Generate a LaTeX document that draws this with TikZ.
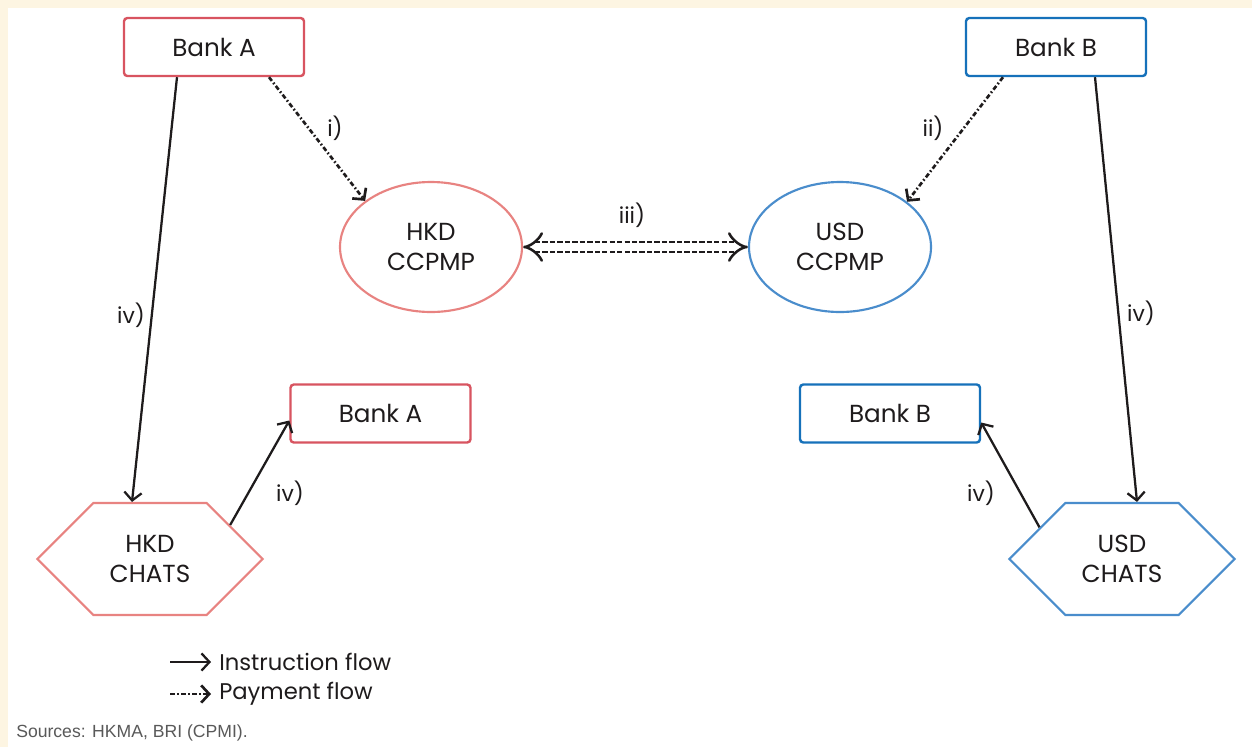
\documentclass[tikz,border=0pt]{standalone}
\usepackage{fontspec}
\setmainfont{Poppins}
\newfontfamily\sourcesfont{Liberation Sans}
\usetikzlibrary{shapes.geometric,shapes.symbols,arrows.meta,calc}

\definecolor{redbox}{RGB}{216,84,96}
\definecolor{redsoft}{RGB}{232,131,129}
\definecolor{bluebox}{RGB}{22,113,186}
\definecolor{bluesoft}{RGB}{74,141,204}
\definecolor{cream}{RGB}{253,245,226}
\definecolor{ink}{RGB}{30,27,28}

\begin{document}
\begin{tikzpicture}[x=0.75pt,y=0.75pt,yscale=-1,xscale=1,
  every node/.style={text=ink, font=\fontsize{16.5}{20}\selectfont},
  bankbox/.style={draw, line width=1.8pt, rounded corners=2.5pt, minimum width=135pt, minimum height=43.5pt, inner sep=0pt, font=\fontsize{18.5}{22}\selectfont},
  ccpmp/.style={draw, ellipse, line width=1.6pt, minimum width=136.5pt, minimum height=97.5pt, inner sep=0pt, align=center, font=\fontsize{18.5}{22.5}\selectfont},
  chats/.style={draw, signal, signal to=east and west, signal pointer angle=90, line width=1.6pt, minimum width=169pt, minimum height=84pt, inner sep=0pt, align=center, font=\fontsize{18.5}{22.5}\selectfont},
  instr/.style={draw=ink, line width=1.7pt, -{Straight Barb[length=6pt,width=13pt]}},
  paym/.style={instr, line width=2pt, dash pattern=on 3.5pt off 1.8pt on 1.2pt off 1.8pt},
  swap/.style={draw=ink, line width=1.9pt, double distance=5.8pt, dash pattern=on 4pt off 1.6pt, {Implies}-{Implies}},
]
\useasboundingbox (0,0) rectangle (1252,747);
\fill[cream] (0,0) rectangle (1252,747);
\fill[white] (8,8) rectangle (1252,747);

% banks and systems
\node[bankbox, draw=redbox] (bankA) at (214,47) {Bank A};
\node[bankbox, draw=bluebox] (bankB) at (1056,47) {Bank B};
\node[ccpmp, draw=redsoft] (hkdccpmp) at (431,247) {HKD\\CCPMP};
\node[ccpmp, draw=bluesoft] (usdccpmp) at (840,247) {USD\\CCPMP};
\node[bankbox, draw=redbox] (bankAlow) at (380.5,413.5) {Bank A};
\node[bankbox, draw=bluebox] (bankBlow) at (890,413.5) {Bank B};
\node[chats, draw=redsoft] (hkdchats) at (150,559) {HKD\\CHATS};
\node[chats, draw=bluesoft] (usdchats) at (1122,559) {USD\\CHATS};

% flows
\draw[instr] ($(bankA.south)+(-37,0)$) -- ($(hkdchats.north)+(-18,0)$);
\draw[paym] ($(bankA.south)+(55,0)$) -- (hkdccpmp.145);
\draw[paym] ($(bankB.south)+(-53,0)$) -- (usdccpmp.34);
\draw[swap] (hkdccpmp.east) -- (usdccpmp.west);
\draw[instr] (hkdchats.23) -- ($(bankAlow.west)+(0,7)$);
\draw[instr] (usdchats.159) -- ($(bankBlow.east)+(0,9)$);
\draw[instr] ($(bankB.south)+(39,0)$) -- ($(usdchats.north)+(15,0)$);

% step labels
\node (lbli) at (335,128) {i)};
\node (lblii) at (933,128) {ii)};
\node (lbliii) at (632,215) {iii)};
\node (lblivA) at (131,315) {iv)};
\node (lblivB) at (290,493) {iv)};
\node (lblivC) at (981,493) {iv)};
\node (lblivD) at (1141,313) {iv)};

% legend
\node[anchor=west, inner sep=0pt, font=\fontsize{17}{20}\selectfont] (instrtext) at (219,662) {Instruction flow};
\node[anchor=west, inner sep=0pt, font=\fontsize{17}{20}\selectfont] (paymtext) at (219,694) {Payment flow};
\coordinate (instrtail) at (170,662);
\coordinate (paymtail) at (170,694);
\draw[instr] (instrtail) -- ($(instrtext.west)+(-8,0)$);
\draw[paym] (paymtail) -- ($(paymtext.west)+(-8,0)$);

\node[anchor=west, inner sep=0pt, font=\sourcesfont\fontsize{13.2}{15}\selectfont, text=black!65] (sources) at (16,733) {Sources: HKMA, BRI (CPMI).};

\end{tikzpicture}
\end{document}
